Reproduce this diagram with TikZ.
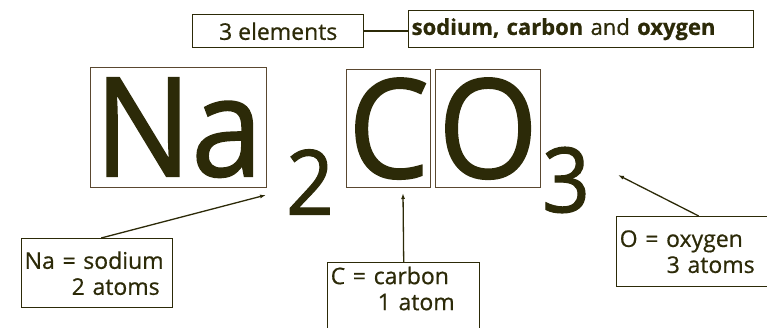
\documentclass[tikz,border=0pt]{standalone}
\usepackage{fontspec}
\setmainfont{Open Sans}
\newfontfamily\labelfont[FakeBold=0.6]{Open Sans}
\newfontfamily\formulafont[FakeBold=1.2,FakeStretch=0.93]{Open Sans}
\usetikzlibrary{positioning,arrows.meta}
\definecolor{inkolive}{RGB}{44,42,8}
\definecolor{frameolive}{RGB}{90,72,48}

\tikzset{
	labelbox/.style={draw=inkolive, line width=1.4pt, text=inkolive, inner xsep=3pt, inner ysep=4pt, anchor=north west, align=left, font=\labelfont\fontsize{23}{26}\selectfont},
	letterbox/.style={draw=frameolive, line width=1.2pt, text=inkolive, inner sep=0pt, anchor=north west, align=center, font=\formulafont\fontsize{138}{138}\selectfont},
	digit/.style={text=inkolive, inner sep=0pt, font=\formulafont\fontsize{90}{90}\selectfont},
	pointer/.style={draw=inkolive, line width=1.3pt, -{Latex[length=6pt,width=4pt]}}
}

\begin{document}
\begin{tikzpicture}[x=1pt,y=-1pt]
	\useasboundingbox (0,0) rectangle (767,328);
	
	% top row
	\node[labelbox, minimum width=171pt, minimum height=33pt, align=center] (count) at (192,14) {3 elements};
	\node[labelbox, text width=339pt, minimum height=37pt, font=\labelfont\fontsize{22}{26}\selectfont] (names) at (408,10) {\textbf{sodium, carbon} and \textbf{oxygen}};
	\draw[inkolive, line width=1.4pt] (count.east) -- (count.east -| names.west);
	
	% the formula
	\node[letterbox, text width=176pt, minimum height=120pt] (na) at (90,67) {Na};
	\node[digit] (two) at (310,182) {2};
	\node[letterbox, text width=84pt, minimum height=118pt] (c) at (346,69) {C};
	\node[letterbox, text width=105pt, minimum height=118pt] (o) at (435,69) {O};
	\node[digit] (three) at (566,180) {3};
	
	% labels
	\node[labelbox, text width=145pt, minimum height=69pt] (nalabel) at (21,238) {Na = sodium\\\hspace*{47pt}2 atoms};
	\node[labelbox, text width=146pt] (clabel) at (327,262) {C = carbon\\\hspace*{47pt}1 atom\rule[-30pt]{0pt}{30pt}};
	\node[labelbox, text width=150pt, minimum height=70pt] (olabel) at (616,216) {O = oxygen\\\hspace*{47pt}3 atoms};
	
	% pointers
	\coordinate (natip) at (266,195);
	\coordinate (ctip) at (403,193);
	\coordinate (otip) at (618,175);
	\draw[pointer] ([xshift=4pt]nalabel.north) -- (natip);
	\draw[pointer] (clabel.north) -- (ctip);
	\draw[pointer] ([xshift=4pt]olabel.north) -- (otip);
\end{tikzpicture}
\end{document}
